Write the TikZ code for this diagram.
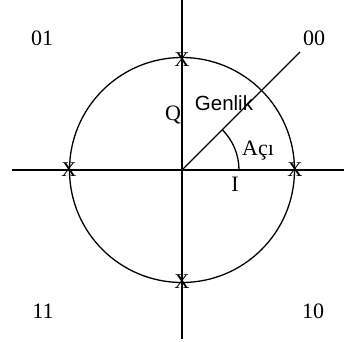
\documentclass[tikz,border=0pt]{standalone}
\usepackage{fontspec}
\setmainfont{Liberation Serif}
\setsansfont{Liberation Sans}
\begin{document}
\begin{tikzpicture}[x=1pt,y=-1pt,
  axis/.style={line width=1.3pt},
  lbl/.style={inner sep=0pt,font=\fontsize{22}{26}\selectfont},
  slbl/.style={inner sep=0pt,font=\sffamily\fontsize{20.5}{24}\selectfont},
  xmark/.style={inner sep=0pt,font=\fontsize{21}{25}\selectfont}]
\useasboundingbox (0,0) rectangle (345,341);
\coordinate (O) at (182,170);
\coordinate (T) at (182,0);
\coordinate (B) at (182,339);
\coordinate (L) at (12,170);
\coordinate (R) at (344,170);
\coordinate (D) at (300,52);
\coordinate (A0) at (239,170);
\draw[axis] (T) -- (B);
\draw[axis] (L) -- (R);
\draw[axis] (O) circle[radius=112.5];
\draw[axis] (O) -- (D);
\draw[axis] (A0) arc[start angle=0,end angle=-45,radius=57];
\node[xmark] (x1) at (182,60) {X};
\node[xmark] (x2) at (69,170) {X};
\node[xmark] (x3) at (295,170) {X};
\node[xmark] (x4) at (182,282) {X};
\node[lbl] (l01) at (42,38) {01};
\node[lbl] (l00) at (314,38) {00};
\node[lbl] (l11) at (43,311) {11};
\node[lbl] (l10) at (313,311) {10};
\node[lbl] (q) at (173,115) {Q};
\node[slbl] (g) at (224,103) {Genlik};
\node[lbl] (a) at (258,151) {Açı};
\node[lbl] (i) at (235,184) {I};
\end{tikzpicture}
\end{document}
